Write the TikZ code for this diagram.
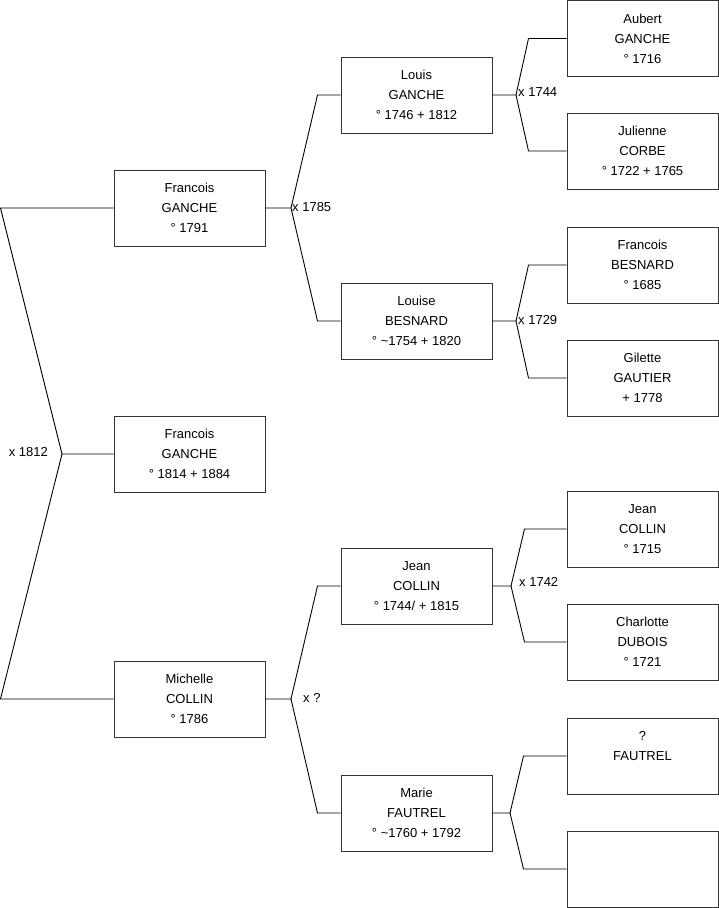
\documentclass[tikz,border=0pt]{standalone}
\usepackage{fontspec}
\setmainfont{Liberation Sans}
\usetikzlibrary{positioning, calc}

\begin{document}
\begin{tikzpicture}[
  x=1pt, y=-1pt,
  person/.style={
    draw=black!80,
    line width=1pt,
    rectangle,
    minimum width=151pt,
    minimum height=76pt,
    inner sep=0pt,
    align=center,
    font=\fontsize{13}{20}\selectfont
  },
  link/.style={line width=0.9pt, black},
  union/.style={font=\fontsize{13}{14}\selectfont, inner sep=1pt}
]
  \useasboundingbox (0,0) rectangle (719,908);

  % first column
  \node[person] (f1791) at (189.5,208) {Francois\\GANCHE\\° 1791};
  \node[person] (f1814) at (189.5,454) {Francois\\GANCHE\\° 1814 + 1884};
  \node[person] (m1786) at (189.5,699) {Michelle\\COLLIN\\° 1786};

  % parents
  \node[person] (l1746) at (416.5,95) {Louis\\GANCHE\\° 1746 + 1812};
  \node[person] (b1754) at (416.5,321) {Louise\\BESNARD\\° \textasciitilde1754 + 1820};
  \node[person] (c1744) at (416.5,586) {Jean\\COLLIN\\° 1744/ + 1815};
  \node[person] (f1760) at (416.5,813) {Marie\\FAUTREL\\° \textasciitilde1760 + 1792};

  % grandparents
  \node[person] (a1716) at (642.5,38.5) {Aubert\\GANCHE\\° 1716};
  \node[person] (c1722) at (642.5,151) {Julienne\\CORBE\\° 1722 + 1765};
  \node[person] (b1685) at (642.5,265) {Francois\\BESNARD\\° 1685};
  \node[person] (g1778) at (642.5,378) {Gilette\\GAUTIER\\+ 1778};
  \node[person] (c1715) at (642.5,529) {Jean\\COLLIN\\° 1715};
  \node[person] (d1721) at (642.5,642) {Charlotte\\DUBOIS\\° 1721};
  \node[person] (f0000) at (642.5,756) {?\\FAUTREL\\\phantom{0}};
  \node[person] (empty) at (642.5,869) {};

  % marriages
  \coordinate (m1812) at (62,454);
  \coordinate (m1785) at (291,208);
  \coordinate (m0000) at (291,699);
  \coordinate (m1744) at (516,95);
  \coordinate (m1729) at (516,321);
  \coordinate (m1742) at (511,586);
  \coordinate (m1792) at (510,813);

  \node[union, anchor=east] at ($(m1812)+(-13,-2)$) {x 1812};
  \node[union, anchor=west] at ($(m1785)+(0,-1)$) {x 1785};
  \node[union, anchor=west] at ($(m0000)+(11,-1)$) {x ?};
  \node[union, anchor=west] at ($(m1744)+(1,-3)$) {x 1744};
  \node[union, anchor=west] at ($(m1729)+(1,-1)$) {x 1729};
  \node[union, anchor=west] at ($(m1742)+(7,-4)$) {x 1742};

  \draw[link] (f1814.west) -- (m1812) -- ($(f1791.west)-(113,0)$) -- (f1791.west);
  \draw[link] (m1812) -- ($(m1786.west)-(113,0)$) -- (m1786.west);

  \draw[link] (f1791.east) -- (m1785) -- ($(l1746.west)-(23,0)$) -- (l1746.west);
  \draw[link] (m1785) -- ($(b1754.west)-(23,0)$) -- (b1754.west);

  \draw[link] (m1786.east) -- (m0000) -- ($(c1744.west)-(23,0)$) -- (c1744.west);
  \draw[link] (m0000) -- ($(f1760.west)-(23,0)$) -- (f1760.west);

  \draw[link] (l1746.east) -- (m1744) -- ($(a1716.west)-(38,0)$) -- (a1716.west);
  \draw[link] (m1744) -- ($(c1722.west)-(38,0)$) -- (c1722.west);

  \draw[link] (b1754.east) -- (m1729) -- ($(b1685.west)-(38,0)$) -- (b1685.west);
  \draw[link] (m1729) -- ($(g1778.west)-(38,0)$) -- (g1778.west);

  \draw[link] (c1744.east) -- (m1742) -- ($(c1715.west)-(42,0)$) -- (c1715.west);
  \draw[link] (m1742) -- ($(d1721.west)-(42,0)$) -- (d1721.west);

  \draw[link] (f1760.east) -- (m1792) -- ($(f0000.west)-(43,0)$) -- (f0000.west);
  \draw[link] (m1792) -- ($(empty.west)-(43,0)$) -- (empty.west);

\end{tikzpicture}
\end{document}
